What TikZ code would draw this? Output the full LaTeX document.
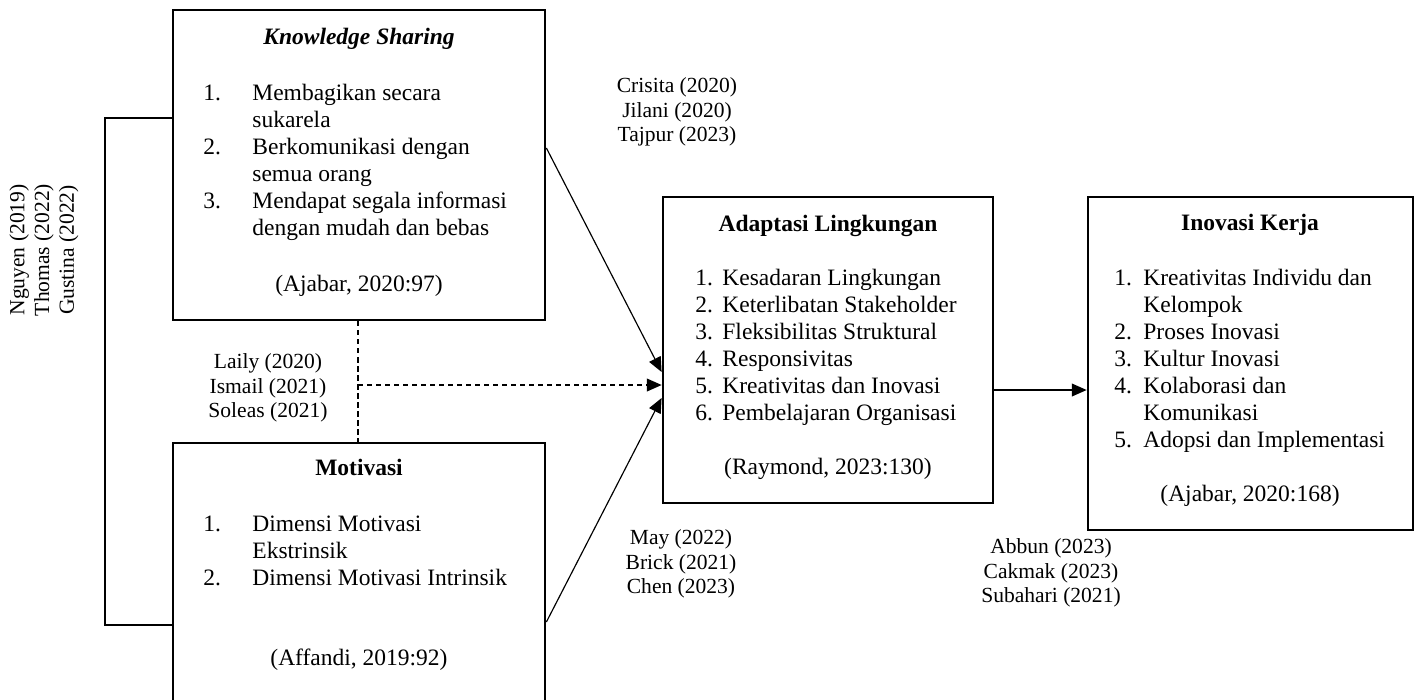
\documentclass[tikz,border=0pt]{standalone}
\usepackage{fontspec}
\setmainfont{Liberation Serif}
\usetikzlibrary{arrows.meta,fit}
\begin{document}
\begin{tikzpicture}[x=0.5106pt,y=-0.5106pt,
  box/.style={draw, line width=1.4pt, inner sep=0pt},
  txt/.style={inner sep=0pt, font=\fontsize{12}{13.8}\selectfont},
  ln/.style={txt, anchor=base west},
  ctr/.style={txt, anchor=base},
  lbl/.style={inner sep=0pt, align=center, font=\fontsize{11}{12.65}\selectfont},
  conn/.style={line width=0.6pt},
  arr/.style={conn, -{Triangle[length=7.5pt,width=6.5pt]}},
  dsh/.style={conn, dash pattern=on 2.6pt off 2pt},
]
\useasboundingbox (0,0) rectangle (1418,699);

% boxes
\node[box, fit={(173,10) (545,320)}] (ks) {};
\node[box, fit={(173,443) (545,706)}] (mot) {};
\node[box, fit={(663,197) (993,503)}] (ad) {};
\node[box, fit={(1088,197) (1413,530)}] (in) {};

% Knowledge Sharing
\node[ctr] (kst) at (359,44) {\textbf{\textit{Knowledge Sharing}}};
\node[ln] (ks1n) at (203,100) {1.};
\node[ln] (ks1a) at (252,100) {Membagikan secara};
\node[ln] (ks1b) at (252,127) {sukarela};
\node[ln] (ks2n) at (203,154) {2.};
\node[ln] (ks2a) at (252,154) {Berkomunikasi dengan};
\node[ln] (ks2b) at (252,181) {semua orang};
\node[ln] (ks3n) at (203,208) {3.};
\node[ln] (ks3a) at (252,208) {Mendapat segala informasi};
\node[ln] (ks3b) at (252,235) {dengan mudah dan bebas};
\node[ctr] (ksc) at (359,291) {(Ajabar, 2020:97)};

% Motivasi
\node[ctr] (mott) at (359,475) {\textbf{Motivasi}};
\node[ln] (mo1n) at (203,531) {1.};
\node[ln] (mo1a) at (252,531) {Dimensi Motivasi};
\node[ln] (mo1b) at (252,558) {Ekstrinsik};
\node[ln] (mo2n) at (203,585) {2.};
\node[ln] (mo2a) at (252,585) {Dimensi Motivasi Intrinsik};
\node[ctr] (moc) at (359,665) {(Affandi, 2019:92)};

% Adaptasi Lingkungan
\node[ctr] (adt) at (828,231) {\textbf{Adaptasi Lingkungan}};
\node[ln] (ad1n) at (695,285) {1.};
\node[ln] (ad1) at (722,285) {Kesadaran Lingkungan};
\node[ln] (ad2n) at (695,312) {2.};
\node[ln] (ad2) at (722,312) {Keterlibatan Stakeholder};
\node[ln] (ad3n) at (695,339) {3.};
\node[ln] (ad3) at (722,339) {Fleksibilitas Struktural};
\node[ln] (ad4n) at (695,366) {4.};
\node[ln] (ad4) at (722,366) {Responsivitas};
\node[ln] (ad5n) at (695,393) {5.};
\node[ln] (ad5) at (722,393) {Kreativitas dan Inovasi};
\node[ln] (ad6n) at (695,420) {6.};
\node[ln] (ad6) at (722,420) {Pembelajaran Organisasi};
\node[ctr] (adc) at (828,474) {(Raymond, 2023:130)};

% Inovasi Kerja
\node[ctr] (int) at (1250,230) {\textbf{Inovasi Kerja}};
\node[ln] (in1n) at (1114,285) {1.};
\node[ln] (in1a) at (1143,285) {Kreativitas Individu dan};
\node[ln] (in1b) at (1143,312) {Kelompok};
\node[ln] (in2n) at (1114,339) {2.};
\node[ln] (in2) at (1143,339) {Proses Inovasi};
\node[ln] (in3n) at (1114,366) {3.};
\node[ln] (in3) at (1143,366) {Kultur Inovasi};
\node[ln] (in4n) at (1114,393) {4.};
\node[ln] (in4a) at (1143,393) {Kolaborasi dan};
\node[ln] (in4b) at (1143,420) {Komunikasi};
\node[ln] (in5n) at (1114,447) {5.};
\node[ln] (in5) at (1143,447) {Adopsi dan Implementasi};
\node[ctr] (inc) at (1250,501) {(Ajabar, 2020:168)};

% reference labels
\node[lbl] (lab1) at (677,112) {Crisita (2020)\\Jilani (2020)\\Tajpur (2023)};
\node[lbl] (lab2) at (268,388) {Laily (2020)\\Ismail (2021)\\Soleas (2021)};
\node[lbl] (lab3) at (681,564) {May (2022)\\Brick (2021)\\Chen (2023)};
\node[lbl] (lab4) at (1051,573) {Abbun (2023)\\Cakmak (2023)\\Subahari (2021)};
\node[lbl, rotate=90] (lab5) at (44,250) {Nguyen (2019)\\Thomas (2022)\\Gustina (2022)};

% connector coordinates
\coordinate (bt) at (105,118);
\coordinate (bb) at (105,625);
\coordinate (ksout) at (0,148);
\coordinate (ksin) at (0,372);
\coordinate (dv) at (358,385);
\coordinate (moout) at (0,622);
\coordinate (moin) at (0,398);
\coordinate (adout) at (0,390);

% connectors
\draw[conn] (ks.west |- bt) -- (bt) -- (bb) -- (mot.west |- bb);
\draw[arr] (ks.east |- ksout) -- (ad.west |- ksin);
\draw[dsh] (ks.south -| dv) -- (mot.north -| dv);
\draw[dsh, -{Triangle[length=7.5pt,width=6.5pt]}] (dv) -- (ad.west |- dv);
\draw[arr] (mot.east |- moout) -- (ad.west |- moin);
\draw[arr] (ad.east |- adout) -- (in.west |- adout);
\end{tikzpicture}
\end{document}
